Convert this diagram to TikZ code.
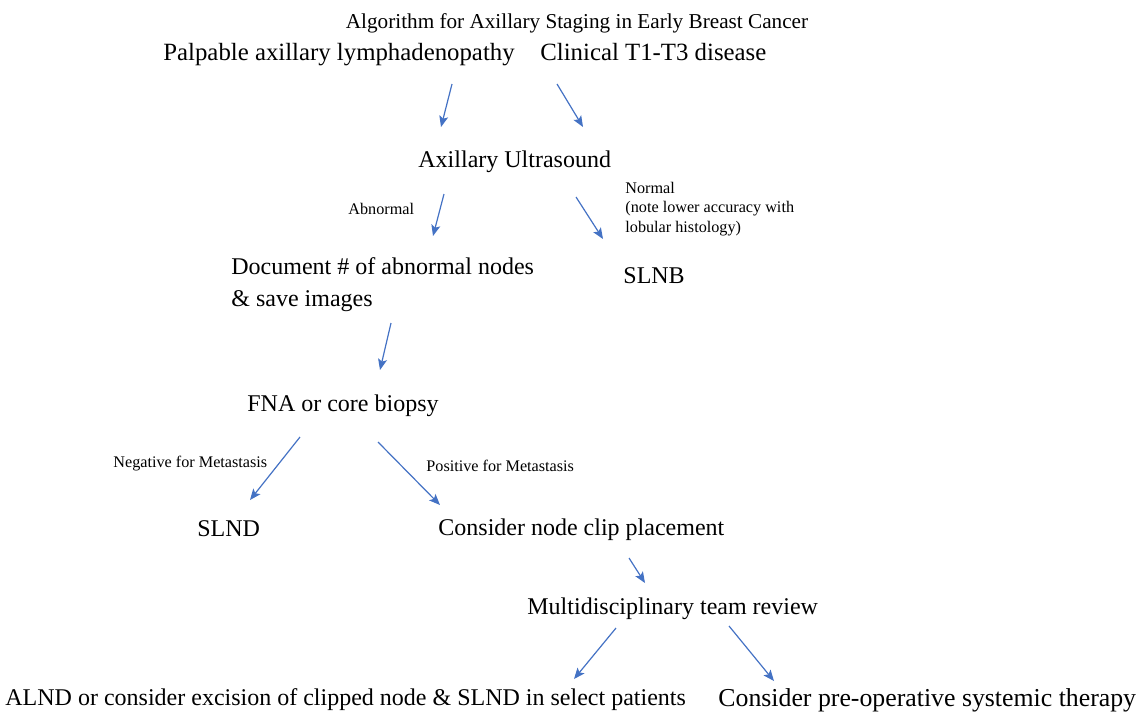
\documentclass[tikz,border=0pt]{standalone}
\usepackage{fontspec}
\setmainfont{Liberation Serif}
\usepackage{xcolor}
\usetikzlibrary{arrows.meta}
\definecolor{arrowblue}{HTML}{4472C4}

\begin{document}
\begin{tikzpicture}[x=0.5pt,y=-0.5pt,
    txt/.style={anchor=base west,inner sep=0pt,font=\fontsize{12}{16}\selectfont},
    bigtxt/.style={anchor=base west,inner sep=0pt,font=\fontsize{12.4}{15}\selectfont},
    smalltxt/.style={anchor=base west,inner sep=0pt,align=left,font=\fontsize{8.1}{9.75}\selectfont},
    flow/.style={arrowblue,line width=0.6pt,-{Stealth[length=5.5pt,width=4.5pt,inset=1.2pt]}}]
            \useasboundingbox (0,0) rectangle (1138,718);
            \node[anchor=base,inner sep=0pt,font=\fontsize{10.6}{12}\selectfont] (title) at (577,28) {Algorithm for Axillary Staging in Early Breast Cancer};
            \node[bigtxt] (palp) at (163,60) {Palpable axillary lymphadenopathy};
            \node[bigtxt] (clin) at (540,60) {Clinical T1-T3 disease};
            \node[txt] (us) at (418,167) {Axillary Ultrasound};
            \node[smalltxt] (abn) at (348,214) {Abnormal};
            % multi-line nodes: base is the last line
            \node[smalltxt] (norm) at (625,232) {Normal\\(note lower accuracy with\\lobular histology)};
            \node[txt,align=left] (doc) at (231,306) {Document \# of abnormal nodes\\\& save images};
            \node[txt] (slnb) at (623,283) {SLNB};
            \node[anchor=base,inner sep=0pt,font=\fontsize{12}{16}\selectfont] (fna) at (343,411) {FNA or core biopsy};
            \node[smalltxt] (neg) at (113,467) {Negative for Metastasis};
            \node[smalltxt] (pos) at (426,471) {Positive for Metastasis};
            \node[txt] (slnd) at (197,536) {SLND};
            \node[txt] (clip) at (438,535) {Consider node clip placement};
            \node[txt] (mdt) at (527,614) {Multidisciplinary team review};
            \node[txt] (alnd) at (5,705) {ALND or consider excision of clipped node \& SLND in select patients};
            \node[txt,font=\fontsize{12.9}{15}\selectfont] (preop) at (718,706) {Consider pre-operative systemic therapy};
            % arrow ends
            \coordinate (p1) at (452,84);  \coordinate (q1) at (441,127);
            \coordinate (p2) at (557,84);  \coordinate (q2) at (583,127);
            \coordinate (p3) at (444,194); \coordinate (q3) at (433,236);
            \coordinate (p4) at (576,197); \coordinate (q4) at (603,239);
            \coordinate (p5) at (391,323); \coordinate (q5) at (380,370);
            \coordinate (p6) at (300,437); \coordinate (q6) at (250,500);
            \coordinate (p7) at (378,442); \coordinate (q7) at (440,505);
            \coordinate (p8) at (629,558); \coordinate (q8) at (645,583);
            \coordinate (p9) at (616,628); \coordinate (q9) at (574,679);
            \coordinate (p10) at (729,626); \coordinate (q10) at (774,681);
            \foreach \i in {1,...,10}
                \draw[flow] (p\i) -- (q\i);
        \end{tikzpicture}
\end{document}
